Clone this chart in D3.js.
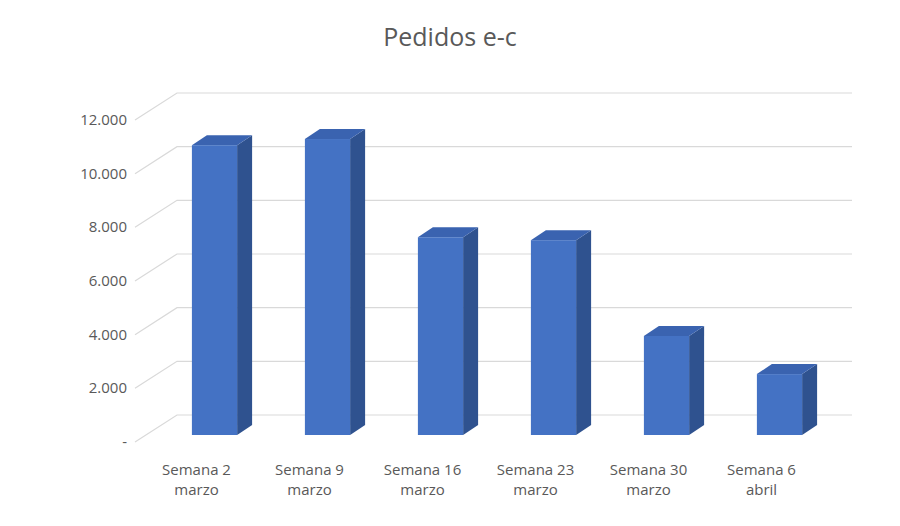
<!DOCTYPE html>
<html><head><meta charset="utf-8">
<script src="https://cdn.jsdelivr.net/npm/d3@7"></script>
<style>body{margin:0;background:#fff}</style>
</head><body><svg id="c"></svg>
<script>
const categories = [["Semana 2","marzo"],["Semana 9","marzo"],["Semana 16","marzo"],["Semana 23","marzo"],["Semana 30","marzo"],["Semana 6","abril"]];
const values = [10800, 11030, 7370, 7260, 3690, 2270];
const ticks = [0, 2000, 4000, 6000, 8000, 10000, 12000];
const tickLabels = ["-", "2.000", "4.000", "6.000", "8.000", "10.000", "12.000"];

const width = 900, height = 526;
const svg = d3.select("#c").attr("width", width).attr("height", height)
  .style("font-family", "'Open Sans', 'Noto Sans', sans-serif");

// back wall scale and floor depth offset
const yBack = d3.scaleLinear().domain([0, 12000]).range([415, 93]);
const depthX = 42, depthY = 27;
const backLeft = 177, backRight = 852;

const grid = svg.append("g").attr("stroke", "#d9d9d9").attr("stroke-width", 1.2).attr("fill", "none");
ticks.forEach(t => {
  const y = yBack(t);
  grid.append("path").attr("d", `M${backLeft - depthX},${y + depthY}L${backLeft},${y}L${backRight},${y}`);
});

svg.append("g").selectAll("text").data(ticks).enter().append("text")
  .attr("x", 127).attr("y", d => yBack(d) + depthY + 5)
  .attr("text-anchor", "end").attr("font-size", 15).attr("fill", "#595959")
  .text((d, i) => tickLabels[i]);

// bars sit halfway into the depth
const x = d3.scaleBand().domain(d3.range(values.length)).range([158, 836]).paddingInner(0.6).paddingOuter(0.3);
const yBar = d3.scaleLinear().domain([0, 12000]).range([435, 435 - (yBack(0) - yBack(12000))]);
const bw = x.bandwidth(), bdx = 15, bdy = 10;

const bars = svg.append("g").selectAll("g").data(values).enter().append("g");
bars.append("path").attr("fill", "#2f528f")
  .attr("d", (d, i) => { const x0 = x(i) + bw, yt = yBar(d), yb = yBar(0);
    return `M${x0},${yt}L${x0 + bdx},${yt - bdy}L${x0 + bdx},${yb - bdy}L${x0},${yb}Z`; });
bars.append("path").attr("fill", "#3a63b0")
  .attr("d", (d, i) => { const x0 = x(i), yt = yBar(d);
    return `M${x0},${yt}L${x0 + bdx},${yt - bdy}L${x0 + bw + bdx},${yt - bdy}L${x0 + bw},${yt}Z`; });
bars.append("rect").attr("fill", "#4472c4")
  .attr("x", (d, i) => x(i)).attr("width", bw)
  .attr("y", d => yBar(d)).attr("height", d => yBar(0) - yBar(d));

const lab = svg.append("g").selectAll("text").data(categories).enter().append("text")
  .attr("text-anchor", "middle").attr("font-size", 15).attr("fill", "#595959")
  .attr("transform", (d, i) => `translate(${x(i) + bw / 2 - 18},475)`);
lab.append("tspan").attr("x", 0).attr("dy", 0).text(d => d[0]);
lab.append("tspan").attr("x", 0).attr("dy", 20).text(d => d[1]);

svg.append("text").attr("x", 450).attr("y", 46).attr("text-anchor", "middle")
  .attr("font-size", 25).attr("fill", "#595959").text("Pedidos e-c");
</script></body></html>
